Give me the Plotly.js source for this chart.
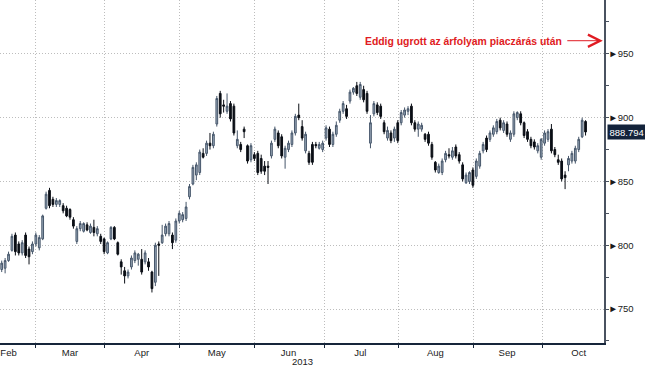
<!DOCTYPE html>
<html><head><meta charset="utf-8">
<script src="https://cdn.plot.ly/plotly-3.0.1.min.js"></script>
<style>html,body{margin:0;padding:0;background:#fff;} #chart{width:645px;height:367px;}</style>
</head><body><div id="chart"></div>
<script>
// Daily OHLC, trading days mid-Feb .. 17 Oct 2013
const openP = [781,782,788,796,808,801,794,808,797,795,801,798,805,829,843,836,832,832,831,829,828,820,803,813,811,816,810,814,809,807,
805,794,805,814,802,787,780,776,783,788,789,789,787,787,779,771,801,802,809,809,808,804,819,820,821,838,848,855,857,872,
872,880,878,895,919,910,905,911,909,878,879,891,878,867,871,872,868,862,862,870,883,888,885,869,875,879,888,902,893,874,
872,879,879,876,875,884,891,879,887,898,905,907,913,920,925,916,922,919,880,903,910,909,896,884,888,884,896,896,902,905,
909,896,891,891,887,887,879,865,857,857,867,871,869,877,871,863,849,850,859,854,862,874,884,883,887,889,898,890,895,883,
887,900,903,896,889,883,881,874,869,880,883,891,875,867,866,855,863,866,866,875,885,897];
const highP = [788,790,795,809,810,803,804,810,799,803,810,808,824,842,845,838,837,836,833,831,829,822,815,819,818,818,817,820,815,809,
806,803,815,815,803,789,783,781,792,796,794,797,796,790,780,802,803,816,817,819,810,821,827,826,834,848,863,865,875,876,
882,888,889,917,921,914,919,913,911,890,881,893,879,880,873,874,871,866,866,882,893,890,887,878,882,890,903,911,898,889,
874,881,881,881,882,894,893,889,897,907,913,910,922,924,928,928,925,921,902,913,912,911,898,893,890,893,898,906,908,909,
911,898,897,896,888,889,881,866,864,868,874,876,877,879,873,865,857,858,861,868,874,881,886,890,894,899,900,898,897,890,
905,905,905,897,891,885,883,880,884,890,891,895,877,871,868,858,870,874,878,885,900,898];
const lowP = [779,778,787,795,792,792,792,790,785,793,799,796,804,828,829,830,830,830,825,822,820,813,801,811,810,811,809,807,807,801,
793,793,804,804,792,777,770,774,781,786,784,777,785,780,763,768,776,801,807,807,797,802,817,818,819,836,847,851,855,868,
870,875,876,893,900,904,903,897,886,876,873,884,864,865,866,855,856,855,848,868,881,876,868,860,873,877,886,898,882,872,
863,863,876,875,873,882,877,877,885,896,903,899,911,918,917,914,912,903,876,901,902,899,887,882,880,881,880,894,900,902,
894,889,885,889,881,878,867,857,856,855,865,868,867,868,864,850,848,848,845,852,860,872,873,881,885,887,890,888,885,881,
885,898,894,884,881,876,875,872,867,878,881,872,869,863,850,844,858,864,864,873,884,886];
const closeP = [786,788,793,807,795,794,802,792,791,801,808,806,823,840,831,832,835,835,827,823,822,815,813,817,817,812,815,810,813,803,
795,802,814,805,793,783,776,779,790,794,793,779,794,783,766,800,800,808,815,817,802,819,825,824,830,846,861,863,873,869,
880,878,887,915,903,909,909,899,888,883,875,889,866,878,868,857,858,858,861,880,891,878,870,876,880,888,901,900,884,887,
865,865,878,879,880,892,879,887,894,905,911,901,920,923,919,926,914,905,896,911,904,901,889,890,882,891,882,904,906,907,
896,891,895,894,883,880,869,859,862,866,872,870,874,870,866,852,855,857,847,866,872,879,875,888,892,897,892,896,887,888,
903,904,896,886,883,878,877,878,883,888,889,874,871,865,852,853,868,872,876,883,898,888.794];

const monthStarts   = [10, 30, 52, 74, 94.4, 116.3, 138.3, 158.5];
const monthLabelPos = [2, 20, 41, 63, 84, 105, 127, 148, 169];
const monthLabels   = ['Feb','Mar','Apr','May','Jun','Jul','Aug','Sep','Oct'];
const yTickVals     = [750, 800, 850, 900, 950];
const yTickText     = yTickVals.map(v => '\u25BA' + v);
const lastPrice     = 888.794;
const afterHoursLevel = 960.3;
const noteText  = 'Eddig ugrott az árfolyam piaczárás után';
const yearLabel = '2013';

const idx = closeP.map((_, i) => i);
const FONT = 'Liberation Sans, Arial, sans-serif';

const trace = {
  type: 'candlestick',
  x: idx, open: openP, high: highP, low: lowP, close: closeP,
  increasing: {line: {color: '#46566a', width: 1}, fillcolor: '#9aa9ba'},
  decreasing: {line: {color: '#0b0f16', width: 1}, fillcolor: '#0b0f16'},
  whiskerwidth: 0,
  hoverinfo: 'skip',
  showlegend: false
};

const layout = {
  width: 645, height: 367,
  margin: {l: 0, r: 41, t: 0, b: 24, pad: 0},
  paper_bgcolor: '#ffffff', plot_bgcolor: '#ffffff',
  font: {family: FONT, size: 9.5, color: '#1a1a1a'},
  showlegend: false,
  boxgap: 0.28,
  xaxis: {
    range: [-0.5, 176.4],
    rangeslider: {visible: false},
    tickmode: 'array', tickvals: monthLabelPos, ticktext: monthLabels,
    ticks: '', showgrid: false, zeroline: false,
    showline: true, linecolor: '#16253a', linewidth: 2,
    tickfont: {family: FONT, size: 9.5, color: '#1a1a1a'},
    minor: {tickmode: 'array', tickvals: monthStarts, ticks: 'outside', ticklen: 3,
            tickcolor: '#16253a', tickwidth: 1, showgrid: true,
            gridcolor: '#bdbdbd', gridwidth: 1, griddash: '1px,2px'},
    fixedrange: true
  },
  yaxis: {
    side: 'right',
    range: [723.4, 992.2],
    tickmode: 'array', tickvals: yTickVals, ticktext: yTickText,
    ticks: 'outside', ticklen: 1, tickcolor: '#4a5260',
    showgrid: true, gridcolor: '#bdbdbd', gridwidth: 1, griddash: '1px,2px',
    zeroline: false,
    showline: true, linecolor: '#4a5260', linewidth: 1.5,
    tickfont: {family: FONT, size: 9.5, color: '#1a1a1a'},
    minor: {dtick: 25, tick0: 725, ticks: 'outside', ticklen: 3, tickcolor: '#4a5260', tickwidth: 1, showgrid: false},
    fixedrange: true
  },
  annotations: [
    {xref: 'paper', yref: 'y', x: 564/604, y: 959.4, xanchor: 'right', yanchor: 'middle',
     text: '<b>' + noteText + '</b>', showarrow: false,
     font: {family: FONT, size: 10.4, color: '#e01b22'}},
    {xref: 'paper', yref: 'y', x: 0.998, y: afterHoursLevel, text: '', showarrow: true,
     ax: -37, ay: 0, arrowhead: 5, arrowsize: 2.4, arrowwidth: 1, arrowcolor: '#e01b22', standoff: 0},
    {xref: 'paper', yref: 'y', x: 1, xshift: 3, y: lastPrice, xanchor: 'left', yanchor: 'middle',
     text: String(lastPrice), showarrow: false, bgcolor: '#13233b', borderpad: 1.5,
     font: {family: FONT, size: 9.5, color: '#ffffff'}},
    {xref: 'paper', yref: 'paper', x: 0.5, y: -0.0525, xanchor: 'center', yanchor: 'middle',
     text: yearLabel, showarrow: false, font: {family: FONT, size: 9.5, color: '#1a1a1a'}}
  ]
};

Plotly.newPlot('chart', [trace], layout, {staticPlot: true, displayModeBar: false});
</script>
</body></html>
